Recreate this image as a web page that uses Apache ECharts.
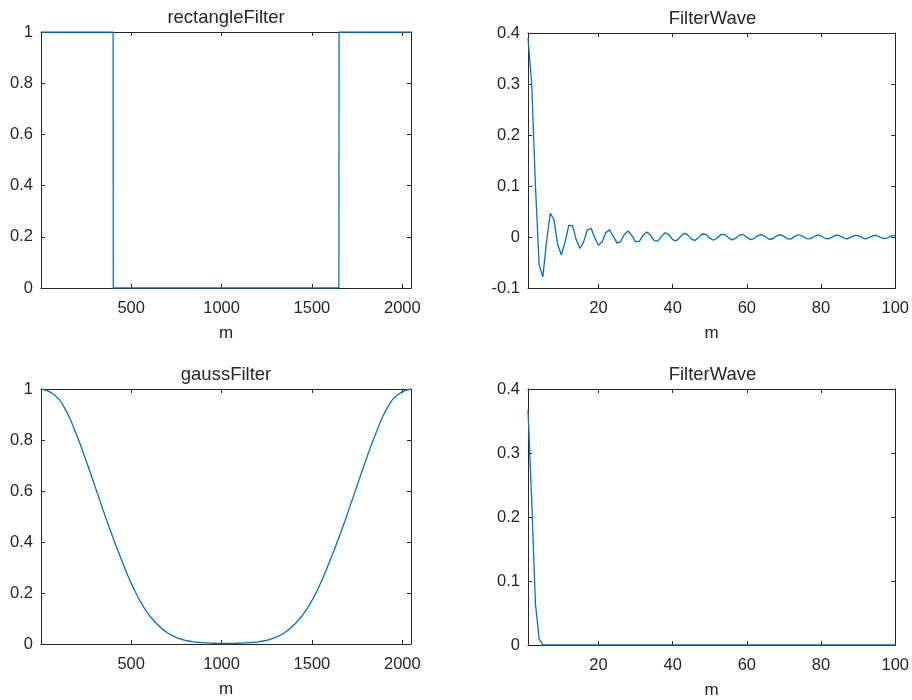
<!DOCTYPE html>
<html>
<head>
<meta charset="utf-8">
<script src="https://cdn.jsdelivr.net/npm/echarts@6/dist/echarts.min.js"></script>
<style>
html,body{margin:0;padding:0;background:#fff;}
#chart{width:912px;height:700px;}
</style>
</head>
<body>
<div id="chart"></div>
<script>
// ---------- data ----------
const titles = ['rectangleFilter', 'FilterWave', 'gaussFilter', 'FilterWave'];
const xName = 'm';

// rectangle filter (m, value)
const rectX = [1, 400, 401, 1649, 1650, 2048];
const rectY = [1, 1, 0, 0, 1, 1];

// gauss filter samples (m, value)
const gaussX = [1, 64, 128, 192, 256, 320, 384, 448, 512, 576, 640, 704, 768, 832, 896, 960, 1024,
  1088, 1152, 1216, 1280, 1344, 1408, 1472, 1536, 1600, 1664, 1728, 1792, 1856, 1920, 1984, 2048];
const gaussY = [1.0, 0.982, 0.930, 0.830, 0.708, 0.576, 0.446, 0.327, 0.220, 0.137, 0.080, 0.042, 0.021, 0.010, 0.005, 0.003, 0.002,
  0.003, 0.005, 0.010, 0.021, 0.042, 0.080, 0.137, 0.220, 0.327, 0.446, 0.576, 0.708, 0.830, 0.930, 0.982, 1.0];

// FilterWave (rectangle) for m = 1..100
const waveRect = [
  0.390, 0.2995, 0.1013, -0.0541, -0.0781, -0.0098, 0.0466, 0.0340, -0.0148, -0.0353,
  -0.0097, 0.0229, 0.0223, -0.0055, -0.0226, -0.0095, 0.0137, 0.0171, -0.0013, -0.0161,
  -0.0092, 0.0086, 0.0140, 0.0012, -0.0121, -0.0089, 0.0053, 0.0117, 0.0027, -0.0092,
  -0.0085, 0.0030, 0.0099, 0.0037, -0.0069, -0.0080, 0.0012, 0.0084, 0.0044, -0.0051,
  -0.0075, -0.0001, 0.0071, 0.0048, -0.0036, -0.0070, -0.0012, 0.0059, 0.0050, -0.0023,
  -0.0064, -0.0020, 0.0048, 0.0051, -0.0012, -0.0057, -0.0026, 0.0038, 0.0050, -0.0003,
  -0.0051, -0.0031, 0.0029, 0.0049, 0.0005, -0.0044, -0.0034, 0.0020, 0.0047, 0.0012,
  -0.0038, -0.0036, 0.0012, 0.0044, 0.0017, -0.0031, -0.0037, 0.0005, 0.0040, 0.0021,
  -0.0024, -0.0037, -0.0001, 0.0036, 0.0025, -0.0018, -0.0037, -0.0007, 0.0031, 0.0027,
  -0.0012, -0.0035, -0.0011, 0.0027, 0.0029, -0.0007, -0.0033, -0.0015, 0.0022, 0.0030
];

// FilterWave (gauss) for m = 1..100
const waveGauss = [
  0.367, 0.225, 0.065, 0.009, 0.0007, 0, 0, 0, 0, 0,
  0, 0, 0, 0, 0, 0, 0, 0, 0, 0,
  0, 0, 0, 0, 0, 0, 0, 0, 0, 0,
  0, 0, 0, 0, 0, 0, 0, 0, 0, 0,
  0, 0, 0, 0, 0, 0, 0, 0, 0, 0,
  0, 0, 0, 0, 0, 0, 0, 0, 0, 0,
  0, 0, 0, 0, 0, 0, 0, 0, 0, 0,
  0, 0, 0, 0, 0, 0, 0, 0, 0, 0,
  0, 0, 0, 0, 0, 0, 0, 0, 0, 0,
  0, 0, 0, 0, 0, 0, 0, 0, 0, 0
];

const filterTicks = [500, 1000, 1500, 2000];
const waveTicks = [20, 40, 60, 80, 100];

// ---------- layout ----------
const FONT = '"Liberation Sans", Arial, Helvetica, sans-serif';
const TXT = '#262626';
const AX = '#262626';
const LINE = '#0072BD';

const grids = [
  {left: 41, top: 32, width: 370, height: 256},
  {left: 528, top: 33, width: 369, height: 255},
  {left: 41, top: 389, width: 370, height: 255},
  {left: 528, top: 389, width: 369, height: 256}
];
const xRanges = [[1, 2048, filterTicks], [1, 100, waveTicks], [1, 2048, filterTicks], [1, 100, waveTicks]];
const yRanges = [[0, 1, 0.2], [-0.1, 0.4, 0.1], [0, 1, 0.2], [0, 0.4, 0.1]];

const plain = v => String(Math.round(v * 1000) / 1000);

const xAxes = [], yAxes = [], titleArr = [];
grids.forEach((g, i) => {
  const [xmin, xmax, ticks] = xRanges[i];
  const [ymin, ymax, yint] = yRanges[i];
  const lineStyle = {color: AX, width: 1};
  xAxes.push({
    type: 'value', gridIndex: i, min: xmin, max: xmax, position: 'bottom',
    name: xName, nameLocation: 'middle', nameGap: 37,
    nameTextStyle: {fontFamily: FONT, fontSize: 17, color: TXT},
    axisLine: {show: true, onZero: false, lineStyle},
    axisTick: {show: true, inside: true, length: 4, lineStyle, customValues: ticks},
    axisLabel: {show: true, fontFamily: FONT, fontSize: 16.5, color: TXT, margin: 12, customValues: ticks, formatter: plain},
    splitLine: {show: false}
  });
  xAxes.push({
    type: 'value', gridIndex: i, min: xmin, max: xmax, position: 'top',
    axisLine: {show: true, onZero: false, lineStyle},
    axisTick: {show: true, inside: true, length: 4, lineStyle, customValues: ticks},
    axisLabel: {show: false},
    splitLine: {show: false}
  });
  yAxes.push({
    type: 'value', gridIndex: i, min: ymin, max: ymax, interval: yint, position: 'left',
    axisLine: {show: true, onZero: false, lineStyle},
    axisTick: {show: true, inside: true, length: 4, lineStyle},
    axisLabel: {show: true, fontFamily: FONT, fontSize: 16.5, color: TXT, margin: 8, formatter: plain},
    splitLine: {show: false}
  });
  yAxes.push({
    type: 'value', gridIndex: i, min: ymin, max: ymax, interval: yint, position: 'right',
    axisLine: {show: true, onZero: false, lineStyle},
    axisTick: {show: true, inside: true, length: 4, lineStyle},
    axisLabel: {show: false},
    splitLine: {show: false}
  });
  titleArr.push({
    text: titles[i], left: g.left + g.width / 2, top: g.top - 24, textAlign: 'center', padding: 0,
    textStyle: {fontFamily: FONT, fontSize: 18.5, fontWeight: 'normal', color: TXT}
  });
});

const idx = Array.from({length: 100}, (_, i) => i + 1);
const mk = (xs, ys) => xs.map((x, i) => [x, ys[i]]);
const lineBase = {type: 'line', showSymbol: false, symbol: 'none', animation: false,
  lineStyle: {color: LINE, width: 1.3}, itemStyle: {color: LINE}};

const option = {
  backgroundColor: '#fff',
  animation: false,
  title: titleArr,
  grid: grids,
  xAxis: xAxes,
  yAxis: yAxes,
  series: [
    Object.assign({}, lineBase, {xAxisIndex: 0, yAxisIndex: 0, data: mk(rectX, rectY)}),
    Object.assign({}, lineBase, {xAxisIndex: 2, yAxisIndex: 2, data: mk(idx, waveRect)}),
    Object.assign({}, lineBase, {xAxisIndex: 4, yAxisIndex: 4, smooth: 0.5, data: mk(gaussX, gaussY)}),
    Object.assign({}, lineBase, {xAxisIndex: 6, yAxisIndex: 6, data: mk(idx, waveGauss)})
  ]
};

const chart = echarts.init(document.getElementById('chart'), null, {renderer: 'canvas'});
chart.setOption(option);
</script>
</body>
</html>
